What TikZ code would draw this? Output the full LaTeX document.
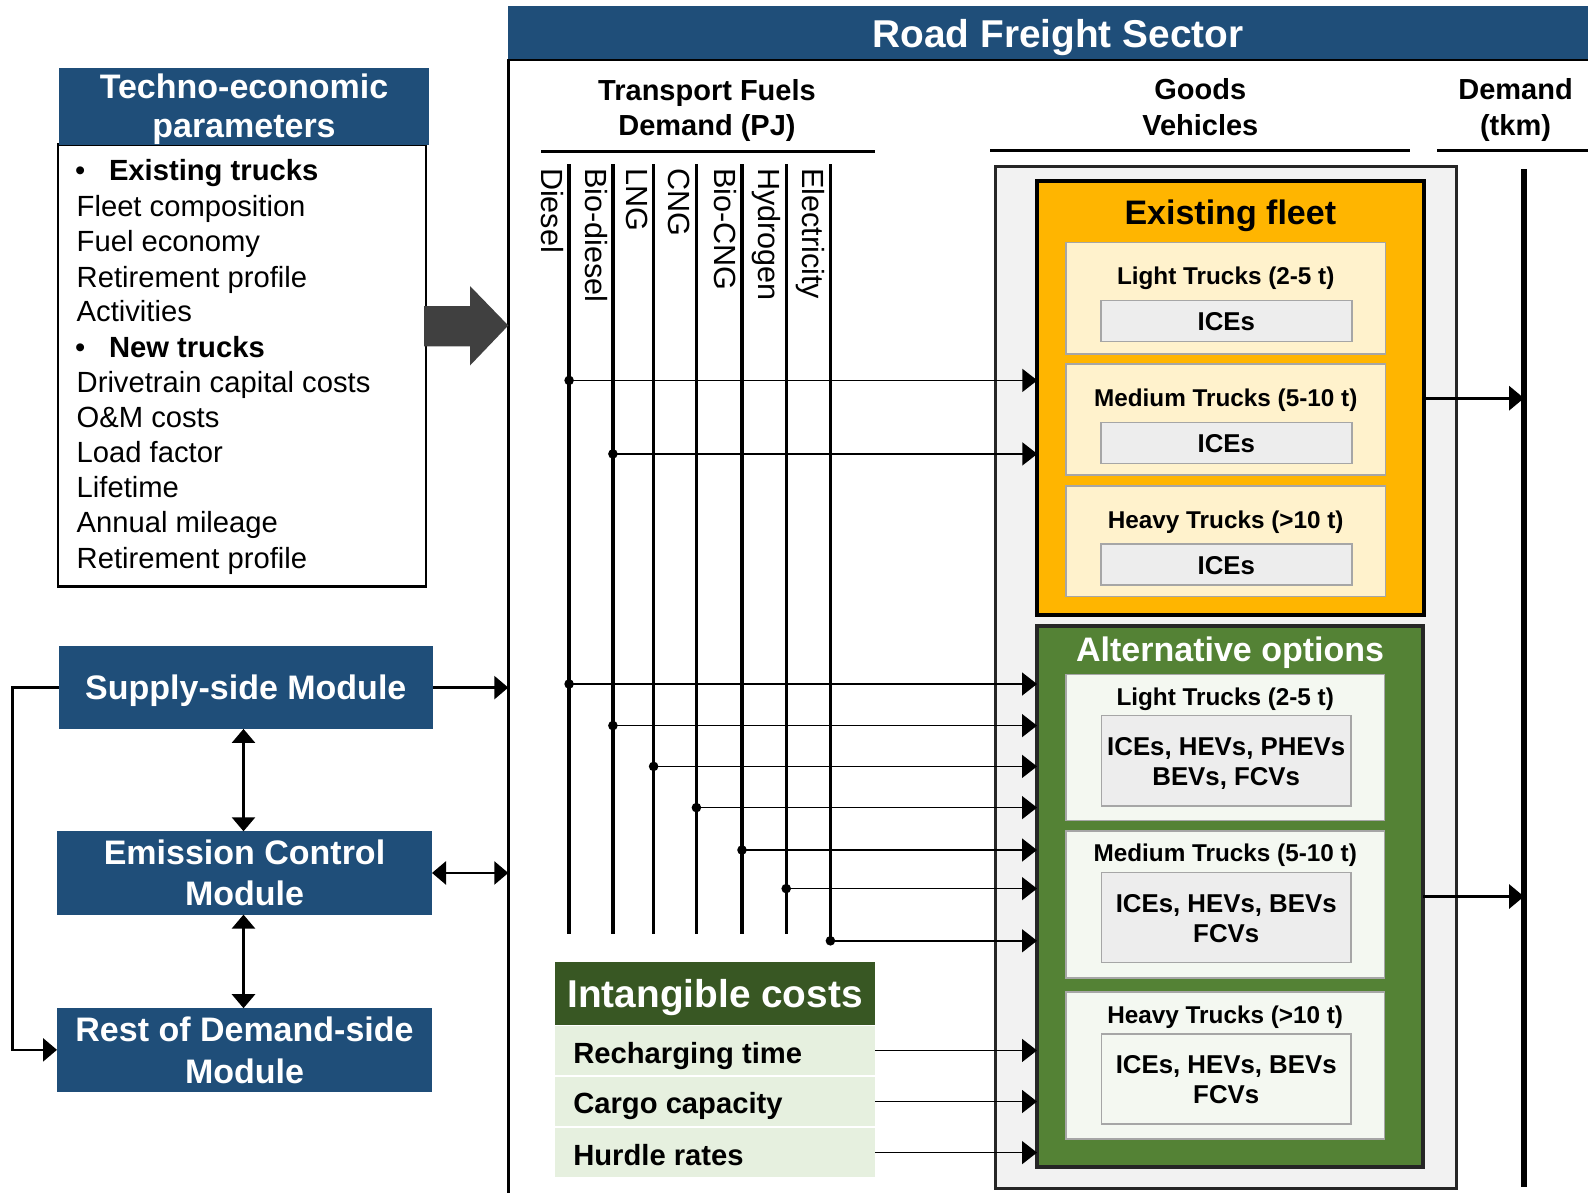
\documentclass[tikz,border=0pt]{standalone}
\usepackage{fontspec}
\setmainfont{Liberation Sans}
\usetikzlibrary{arrows.meta,fit,calc}

\definecolor{hdrblue}{RGB}{31,78,121}
\definecolor{bigarrowcol}{RGB}{64,64,64}
\definecolor{fleetorange}{RGB}{255,181,0}
\definecolor{paleyellow}{RGB}{255,242,204}
\definecolor{innergray}{RGB}{237,237,237}
\definecolor{subborder}{RGB}{166,166,166}
\definecolor{altgreen}{RGB}{84,130,53}
\definecolor{palegreen}{RGB}{244,248,241}
\definecolor{darkgreen}{RGB}{56,87,35}
\definecolor{rowgreen}{RGB}{230,240,223}
\definecolor{panelgray}{RGB}{242,242,242}
\definecolor{panelborder}{RGB}{38,38,38}

\newcommand\rkTitle{\fontsize{19.4pt}{23pt}\selectfont\bfseries}
\newcommand\rkMod{\fontsize{17pt}{20pt}\selectfont\bfseries}
\newcommand\rkList{\fontsize{14.6pt}{17pt}\selectfont}
\newcommand\rkFuel{\fontsize{15.3pt}{18pt}\selectfont}
\newcommand\rkCol{\fontsize{14.5pt}{17pt}\selectfont\bfseries}
\newcommand\rkTruck{\fontsize{12.15pt}{14pt}\selectfont\bfseries}
\newcommand\rkVeh{\fontsize{12.9pt}{15pt}\selectfont\bfseries}

\begin{document}
\begin{tikzpicture}[x=0.5pt,y=-0.5pt,
  txt/.style={inner sep=0pt,outer sep=0pt,anchor=base},
  ltxt/.style={inner sep=0pt,outer sep=0pt,anchor=base west},
  boxfit/.style={inner sep=0pt,outer sep=0pt},
  arr/.style={line width=1.3pt,-{Triangle[length=7pt,width=11.5pt]}},
  darr/.style={line width=1.3pt,{Triangle[length=7pt,width=11.5pt]}-{Triangle[length=7pt,width=11.5pt]}},
  thinarr/.style={line width=0.8pt,-{Triangle[length=7.5pt,width=11.5pt]}},
  outarr/.style={line width=1.7pt,-{Triangle[length=7.5pt,width=12pt]}},
  fuelline/.style={line width=1.65pt},
  fuellbl/.style={inner sep=0pt,outer sep=0pt,rotate=-90,anchor=base west,font=\rkFuel},
  subbox/.style={boxfit,draw=subborder,line width=0.8pt},
]
\useasboundingbox (0,0) rectangle (1588,1193);

% ---------- Road Freight Sector frame ----------
\node[boxfit,fill=hdrblue,fit={(508.3,6)(1588,60)}] (sechdr) {};
\node[txt,text=white,font=\rkTitle] (sectxt) at (1058,47.5) {Road Freight Sector};
\coordinate (secbot) at (508.3,1193);
\coordinate (secright) at (1588,60);
\draw[line width=1.2pt] (secright) -- (sechdr.south west) -- (secbot);

% ---------- Techno-economic parameters ----------
\node[boxfit,draw,line width=1.35pt,fit={(58,144.7)(426,586.3)}] (tebox) {};
\node[boxfit,fill=hdrblue,fit={(59.3,68.1)(428.7,144.7)}] (tehdr) {};
\node[txt,text=white,font=\rkMod] (teh1) at (244,98.6) {Techno-economic};
\node[txt,text=white,font=\rkMod] (teh2) at (244,137) {parameters};

\node[ltxt,font=\rkList] (b1) at (75,180.6) {•};
\node[ltxt,font=\rkList\bfseries] (l1) at (109,180.6) {Existing trucks};
\node[ltxt,font=\rkList] (l2) at (76.7,216.2) {Fleet composition};
\node[ltxt,font=\rkList] (l3) at (76.7,251.8) {Fuel economy};
\node[ltxt,font=\rkList] (l4) at (76.7,287) {Retirement profile};
\node[ltxt,font=\rkList] (l5) at (76.7,321.5) {Activities};
\node[ltxt,font=\rkList] (b2) at (75,357) {•};
\node[ltxt,font=\rkList\bfseries] (l6) at (109,357) {New trucks};
\node[ltxt,font=\rkList] (l7) at (76.7,392.3) {Drivetrain capital costs};
\node[ltxt,font=\rkList] (l8) at (76.7,427.5) {O\&M costs};
\node[ltxt,font=\rkList] (l9) at (76.7,462.3) {Load factor};
\node[ltxt,font=\rkList] (l10) at (76.7,497.5) {Lifetime};
\node[ltxt,font=\rkList] (l11) at (76.7,532.7) {Annual mileage};
\node[ltxt,font=\rkList] (l12) at (76.7,568) {Retirement profile};

% big arrow
\fill[bigarrowcol] (424,306) -- (470,306) -- (470,286) -- (508.3,325.5) -- (470,365.5) -- (470,346.4) -- (424,346.4) -- cycle;

% ---------- Modules ----------
\node[boxfit,fill=hdrblue,fit={(58.7,646.3)(433,728.9)}] (sup) {};
\node[txt,text=white,font=\rkMod] (suptxt) at (245.8,699.7) {Supply-side Module};
\node[boxfit,fill=hdrblue,fit={(57,831.3)(432,914.6)}] (emi) {};
\node[txt,text=white,font=\rkMod] (emit1) at (244.5,864.2) {Emission Control};
\node[txt,text=white,font=\rkMod] (emit2) at (244.5,905.8) {Module};
\node[boxfit,fill=hdrblue,fit={(57,1008.2)(432,1091.5)}] (rest) {};
\node[txt,text=white,font=\rkMod] (rest1) at (244.5,1041.4) {Rest of Demand-side};
\node[txt,text=white,font=\rkMod] (rest2) at (244.5,1083.4) {Module};

\coordinate (vx) at (243.5,0);
\draw[darr] (sup.south -| vx) -- (emi.north -| vx);
\draw[darr] (emi.south -| vx) -- (rest.north -| vx);
\draw[arr] (sup.west) -- ++(-46,0) |- (rest.west);
\draw[arr] (sup.east) -- (sup.east -| secbot);
\draw[darr] (emi.east) -- (emi.east -| secbot);

% ---------- Column headers ----------
\node[txt,font=\rkCol] (tf1) at (707,100.5) {Transport Fuels};
\node[txt,font=\rkCol] (tf2) at (707,135.5) {Demand (PJ)};
\draw[line width=1.3pt] (541.4,151.7) -- (874.6,151.7);
\node[txt,font=\rkCol] (gv1) at (1200.3,99.5) {Goods};
\node[txt,font=\rkCol] (gv2) at (1200.3,135) {Vehicles};
\draw[line width=1.3pt] (990,150.3) -- (1410,150.3);
\node[txt,font=\rkCol] (dm1) at (1515.5,99.5) {Demand};
\node[txt,font=\rkCol] (dm2) at (1515.5,135) {(tkm)};
\draw[line width=1.3pt] (1437.4,150.3) -- (1588,150.3);

% ---------- Goods vehicles panel ----------
\node[boxfit,fill=panelgray,draw=panelborder,line width=1.5pt,fit={(995.2,166.9)(1456.5,1188.1)}] (panel) {};

% Existing fleet
\node[boxfit,fill=fleetorange,draw=black,line width=2pt,fit={(1037.3,181.1)(1423.8,615.3)}] (ef) {};
\node[txt,font=\rkMod] (eft) at (1230.3,224) {Existing fleet};

\node[subbox,fill=paleyellow,fit={(1066.1,242.4)(1385.3,353.9)}] (els) {};
\node[txt,font=\rkTruck] (elst) at (1225.7,284.5) {Light Trucks (2-5 t)};
\node[subbox,fill=innergray,fit={(1101,300.5)(1351.7,341.6)}] (elsi) {};
\node[txt,font=\rkVeh] (elsv) at (1226.3,330.5) {ICEs};

\node[subbox,fill=paleyellow,fit={(1066.1,363.8)(1385.3,474.9)}] (ems) {};
\node[txt,font=\rkTruck] (emst) at (1225.7,406.6) {Medium Trucks (5-10 t)};
\node[subbox,fill=innergray,fit={(1101,422.3)(1351.7,463.4)}] (emsi) {};
\node[txt,font=\rkVeh] (emsv) at (1226.3,452.3) {ICEs};

\node[subbox,fill=paleyellow,fit={(1066.1,486)(1385.3,596.3)}] (ehs) {};
\node[txt,font=\rkTruck] (ehst) at (1225.7,528.4) {Heavy Trucks (>10 t)};
\node[subbox,fill=innergray,fit={(1101,544.1)(1351.7,585.2)}] (ehsi) {};
\node[txt,font=\rkVeh] (ehsv) at (1226.3,574.1) {ICEs};

% Alternative options
\node[boxfit,fill=altgreen,draw=black!85,line width=2pt,fit={(1037,625.7)(1423.2,1167.3)}] (alt) {};
\node[txt,text=white,font=\rkMod] (altt) at (1230.1,661.2) {Alternative options};

\node[subbox,fill=palegreen,fit={(1066,674.5)(1384.4,820.5)}] (als) {};
\node[txt,font=\rkTruck] (alst) at (1225.2,705.3) {Light Trucks (2-5 t)};
\node[subbox,fill=innergray,fit={(1101.4,715.4)(1351,806.1)}] (alsi) {};
\node[txt,font=\rkVeh] (alsv1) at (1226.2,755.4) {ICEs, HEVs, PHEVs};
\node[txt,font=\rkVeh] (alsv2) at (1226.2,785.7) {BEVs, FCVs};

\node[subbox,fill=palegreen,fit={(1066,831.1)(1384.4,977.8)}] (ams) {};
\node[txt,font=\rkTruck] (amst) at (1225.2,861.4) {Medium Trucks (5-10 t)};
\node[subbox,fill=innergray,fit={(1101.4,872.3)(1351,962.3)}] (amsi) {};
\node[txt,font=\rkVeh] (amsv1) at (1226.2,912.4) {ICEs, HEVs, BEVs};
\node[txt,font=\rkVeh] (amsv2) at (1226.2,942.7) {FCVs};

\node[subbox,fill=palegreen,fit={(1066,992.2)(1384.4,1139)}] (ahs) {};
\node[txt,font=\rkTruck] (ahst) at (1225.2,1023.3) {Heavy Trucks (>10 t)};
\node[subbox,fill=palegreen,fit={(1101.4,1033.8)(1351,1123.8)}] (ahsi) {};
\node[txt,font=\rkVeh] (ahsv1) at (1226.2,1073.2) {ICEs, HEVs, BEVs};
\node[txt,font=\rkVeh] (ahsv2) at (1226.2,1103.4) {FCVs};

% Demand line
\coordinate (demtop) at (1524,169);
\coordinate (dembot) at (1524,1187);
\draw[line width=2.8pt] (demtop) -- (dembot);
\draw[outarr] (ef.east) -- (ef.east -| demtop);
\draw[outarr] (alt.east) -- (alt.east -| demtop);

% ---------- Fuel lines ----------
\foreach \nm/\xx/\yb in {fA/569.1/934, fB/612.9/934, fC/653.6/934, fD/696.4/934, fE/742/934, fF/786.2/934, fG/830.4/940.8}{
  \coordinate (\nm top) at (\xx,164.3);
  \coordinate (\nm bot) at (\xx,\yb);
  \draw[fuelline] (\nm top) -- (\nm bot);
}
\node[fuellbl] (lbA) at (541.6,168) {Diesel};
\node[fuellbl] (lbB) at (585.4,168) {Bio-diesel};
\node[fuellbl] (lbC) at (626.1,168) {LNG};
\node[fuellbl] (lbD) at (668.9,168) {CNG};
\node[fuellbl] (lbE) at (714.5,168) {Bio-CNG};
\node[fuellbl] (lbF) at (758.7,168) {Hydrogen};
\node[fuellbl] (lbG) at (802.9,168) {Electricity};

% junctions to existing fleet
\coordinate (jA1) at (569.1,380.4);
\coordinate (jB1) at (612.9,453.9);
\foreach \j in {jA1,jB1}{
  \fill (\j) circle[radius=2.4pt];
  \draw[thinarr] (\j) -- (\j -| ef.west);
}
% junctions to alternative options
\coordinate (jA2) at (569.1,684);
\coordinate (jB2) at (612.9,725.6);
\coordinate (jC2) at (653.6,766.4);
\coordinate (jD2) at (696.4,807.6);
\coordinate (jE2) at (742,850);
\coordinate (jF2) at (786.2,888.6);
\coordinate (jG2) at (830.4,940.8);
\foreach \j in {jA2,jB2,jC2,jD2,jE2,jF2,jG2}{
  \fill (\j) circle[radius=2.4pt];
  \draw[thinarr] (\j) -- (\j -| alt.west);
}

% ---------- Intangible costs ----------
\node[boxfit,fill=darkgreen,fit={(555,962)(875,1024.7)}] (ich) {};
\node[txt,text=white,font=\rkTitle] (icht) at (715,1007.2) {Intangible costs};
\node[boxfit,fill=rowgreen,fit={(555,1026.2)(875,1074.7)}] (rc) {};
\node[ltxt,font=\rkList\bfseries] (rct) at (573.3,1063.8) {Recharging time};
\node[boxfit,fill=rowgreen,fit={(555,1077.3)(875,1125.7)}] (cc) {};
\node[ltxt,font=\rkList\bfseries] (cct) at (573.3,1113.7) {Cargo capacity};
\node[boxfit,fill=rowgreen,fit={(555,1128.4)(875,1176.8)}] (hr) {};
\node[ltxt,font=\rkList\bfseries] (hrt) at (573.3,1165.9) {Hurdle rates};
\foreach \r in {rc,cc,hr}{
  \draw[thinarr] (\r.east) -- (\r.east -| alt.west);
}
\end{tikzpicture}
\end{document}
